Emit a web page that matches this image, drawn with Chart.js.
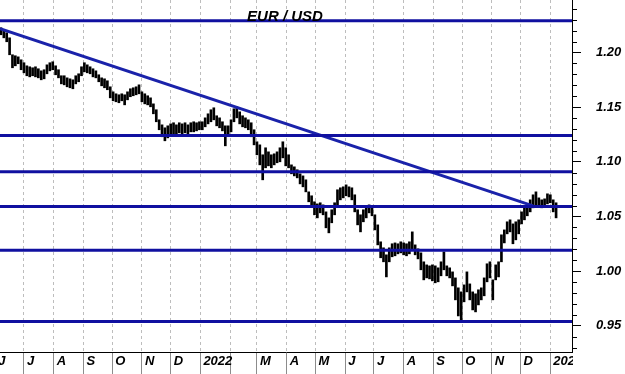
<!DOCTYPE html>
<html lang="en">
<head>
<meta charset="UTF-8">
<title>EUR / USD</title>
<style>
    body {
        margin: 0;
        padding: 0;
        background-color: #fff;
    }
    #wrap {
        width: 625px;
        height: 374px;
    }
</style>
<script src="https://cdn.jsdelivr.net/npm/chart.js"></script>
</head>
<body>
<div id="wrap"><canvas id="fxChart" width="625" height="374"></canvas></div>
<script>
// days counted from 1 June 2021
const days = [
    6, 9, 12, 15, 18, 21, 24, 27, 30, 33, 36, 39, 42, 45, 48, 51,
    54, 57, 60, 63, 66, 69, 72, 75, 78, 81, 84, 87, 90, 93, 96, 99,
    102, 105, 108, 111, 114, 117, 120, 123, 126, 129, 132, 135, 138, 141, 144, 147,
    150, 153, 156, 159, 162, 165, 168, 171, 174, 177, 180, 183, 186, 189, 192, 195,
    198, 201, 204, 207, 210, 213, 216, 219, 222, 225, 228, 231, 234, 237, 240, 243,
    246, 249, 252, 255, 258, 261, 264, 267, 270, 273, 276, 279, 282, 285, 288, 291,
    294, 297, 300, 303, 306, 309, 312, 315, 318, 321, 324, 327, 330, 333, 336, 339,
    342, 345, 348, 351, 354, 357, 360, 363, 366, 369, 372, 375, 378, 381, 384, 387,
    390, 393, 396, 399, 402, 405, 408, 411, 414, 417, 420, 423, 426, 429, 432, 435,
    438, 441, 444, 447, 450, 453, 456, 459, 462, 465, 468, 471, 474, 477, 480, 483,
    486, 489, 492, 495, 498, 501, 504, 507, 510, 513, 516, 519, 522, 525, 528, 531,
    534, 537, 540, 543, 546, 549, 552, 555, 558, 561, 564, 567, 570, 573, 576, 579,
    582, 585
];

const highs = [
    1.2226, 1.2198, 1.2180, 1.2134, 1.1979, 1.1970, 1.1960, 1.1933, 1.1906, 1.1878, 1.1869, 1.1860, 1.1869, 1.1851, 1.1832, 1.1842,
    1.1887, 1.1906, 1.1915, 1.1878, 1.1842, 1.1787, 1.1787, 1.1768, 1.1759, 1.1750, 1.1787, 1.1805, 1.1869, 1.1906, 1.1887, 1.1869,
    1.1851, 1.1832, 1.1796, 1.1768, 1.1759, 1.1741, 1.1686, 1.1640, 1.1622, 1.1613, 1.1622, 1.1613, 1.1640, 1.1668, 1.1677, 1.1686,
    1.1704, 1.1640, 1.1622, 1.1604, 1.1585, 1.1530, 1.1476, 1.1384, 1.1338, 1.1311, 1.1329, 1.1347, 1.1357, 1.1338, 1.1357, 1.1347,
    1.1357, 1.1338, 1.1357, 1.1366, 1.1357, 1.1366, 1.1366, 1.1402, 1.1439, 1.1476, 1.1494, 1.1421, 1.1402, 1.1366, 1.1329, 1.1329,
    1.1384, 1.1485, 1.1503, 1.1457, 1.1421, 1.1402, 1.1384, 1.1357, 1.1293, 1.1183, 1.1155, 1.1064, 1.1128, 1.1091, 1.1064, 1.1073,
    1.1091, 1.1128, 1.1183, 1.1128, 1.1064, 1.0972, 1.0954, 1.0927, 1.0890, 1.0871, 1.0835, 1.0725, 1.0689, 1.0634, 1.0615, 1.0625,
    1.0606, 1.0542, 1.0487, 1.0561, 1.0625, 1.0744, 1.0762, 1.0771, 1.0789, 1.0771, 1.0762, 1.0698, 1.0561, 1.0515, 1.0561, 1.0588,
    1.0606, 1.0597, 1.0515, 1.0423, 1.0268, 1.0213, 1.0149, 1.0213, 1.0250, 1.0258, 1.0250, 1.0268, 1.0258, 1.0250, 1.0268, 1.0359,
    1.0240, 1.0204, 1.0167, 1.0085, 1.0057, 1.0048, 1.0057, 1.0048, 1.0030, 1.0085, 1.0176, 1.0048, 1.0030, 0.9993, 0.9938, 0.9847,
    0.9810, 0.9874, 0.9993, 0.9883, 0.9810, 0.9792, 0.9829, 0.9847, 0.9938, 1.0067, 1.0085, 0.9920, 1.0057, 1.0085, 1.0332, 1.0377,
    1.0451, 1.0469, 1.0432, 1.0451, 1.0469, 1.0542, 1.0579, 1.0597, 1.0652, 1.0698, 1.0725, 1.0670, 1.0652, 1.0661, 1.0707, 1.0698,
    1.0652, 1.0625
];

const lows = [
    1.2162, 1.2134, 1.2098, 1.1979, 1.1860, 1.1878, 1.1897, 1.1842, 1.1814, 1.1787, 1.1777, 1.1787, 1.1777, 1.1768, 1.1750, 1.1759,
    1.1805, 1.1832, 1.1842, 1.1796, 1.1768, 1.1713, 1.1704, 1.1686, 1.1677, 1.1668, 1.1713, 1.1732, 1.1787, 1.1823, 1.1814, 1.1805,
    1.1777, 1.1768, 1.1732, 1.1695, 1.1677, 1.1659, 1.1585, 1.1558, 1.1549, 1.1540, 1.1558, 1.1521, 1.1567, 1.1595, 1.1604, 1.1613,
    1.1622, 1.1549, 1.1530, 1.1521, 1.1503, 1.1439, 1.1366, 1.1293, 1.1229, 1.1192, 1.1219, 1.1256, 1.1256, 1.1247, 1.1265, 1.1256,
    1.1265, 1.1247, 1.1274, 1.1274, 1.1283, 1.1293, 1.1293, 1.1320, 1.1347, 1.1366, 1.1384, 1.1329, 1.1311, 1.1283, 1.1146, 1.1247,
    1.1274, 1.1366, 1.1402, 1.1347, 1.1320, 1.1311, 1.1293, 1.1229, 1.1155, 1.1064, 1.0972, 1.0835, 1.0945, 1.0963, 1.0945, 1.0972,
    1.0991, 1.1000, 1.1036, 1.0963, 1.0945, 1.0890, 1.0871, 1.0853, 1.0798, 1.0771, 1.0725, 1.0634, 1.0597, 1.0515, 1.0487, 1.0533,
    1.0515, 1.0396, 1.0350, 1.0442, 1.0515, 1.0606, 1.0652, 1.0670, 1.0689, 1.0679, 1.0652, 1.0542, 1.0423, 1.0359, 1.0451, 1.0487,
    1.0533, 1.0506, 1.0377, 1.0240, 1.0122, 1.0085, 0.9947, 1.0085, 1.0131, 1.0140, 1.0158, 1.0167, 1.0149, 1.0140, 1.0158, 1.0195,
    1.0149, 1.0112, 1.0012, 0.9920, 0.9938, 0.9929, 0.9911, 0.9893, 0.9902, 0.9957, 1.0012, 0.9957, 0.9938, 0.9865, 0.9737, 0.9590,
    0.9554, 0.9719, 0.9810, 0.9737, 0.9645, 0.9627, 0.9691, 0.9737, 0.9774, 0.9902, 0.9938, 0.9737, 0.9920, 0.9947, 1.0085, 1.0258,
    1.0341, 1.0359, 1.0250, 1.0286, 1.0341, 1.0432, 1.0469, 1.0506, 1.0542, 1.0579, 1.0606, 1.0588, 1.0579, 1.0588, 1.0615, 1.0625,
    1.0542, 1.0487
];

const monthStarts = [0, 30, 61, 92, 122, 153, 183, 214, 245, 273, 304, 334, 365, 395, 426, 457, 487, 518, 548, 579];
const monthLabels = ['J', 'J', 'A', 'S', 'O', 'N', 'D', '2022', '', 'M', 'A', 'M', 'J', 'J', 'A', 'S', 'O', 'N', 'D', '2023'];

// support / resistance levels and the falling trend line
const levels = [1.229, 1.124, 1.091, 1.059, 1.019, 0.954];
const trendDays = [5, 561];
const trendValues = [1.2217, 1.0597];

const priceTicks = [0.95, 1.00, 1.05, 1.10, 1.15, 1.20];
const minorTicks = [0.93, 0.94, 0.96, 0.97, 0.98, 0.99, 1.01, 1.02, 1.03, 1.04, 1.06, 1.07, 1.08, 1.09,
    1.11, 1.12, 1.13, 1.14, 1.16, 1.17, 1.18, 1.19, 1.21, 1.22, 1.23, 1.24];

const X_MIN = 5, X_MAX = 601.6;
const BLUE = '#1010a0';

function hasFont(name) {
    const c = document.createElement('canvas').getContext('2d');
    c.font = 'bold italic 40px monospace';
    const a = c.measureText('EUR / USD 1.20').width;
    c.font = 'bold italic 40px "' + name + '", monospace';
    const b = c.measureText('EUR / USD 1.20').width;
    return a !== b;
}

const narrow = hasFont('Liberation Sans Narrow');
const family = narrow ? '"Liberation Sans Narrow", "Liberation Sans", Arial, sans-serif' : '"Liberation Sans", Arial, sans-serif';
const labelSize = narrow ? 16 : 13;
const titleSize = narrow ? 18 : 15;

const resetPadding = s => {
    s.paddingLeft = 0;
    s.paddingRight = 0;
    s.paddingTop = 0;
    s.paddingBottom = 0;
};

const extras = {
    id: 'extras',
    afterDraw(chart) {
        const { ctx, chartArea, scales: { y } } = chart;
        ctx.save();
        // short minor ticks on the price axis
        ctx.strokeStyle = '#000';
        ctx.lineWidth = 1;
        minorTicks.forEach(v => {
            const py = Math.round(y.getPixelForValue(v)) + 0.5;
            ctx.beginPath();
            ctx.moveTo(chartArea.right, py);
            ctx.lineTo(chartArea.right + 5, py);
            ctx.stroke();
        });
        // the last month label is cut at the axis
        ctx.fillStyle = '#fff';
        ctx.fillRect(chartArea.right + 1, chartArea.bottom + 1, chart.width - chartArea.right, chart.height - chartArea.bottom);
        // title
        ctx.fillStyle = '#000';
        ctx.font = 'italic bold ' + titleSize + 'px ' + family;
        ctx.textAlign = 'center';
        ctx.textBaseline = 'alphabetic';
        ctx.fillText('EUR / USD', 285, 21);
        ctx.restore();
    }
};

const levelSets = levels.map(v => ({
    type: 'line',
    data: [{ x: X_MIN, y: v }, { x: X_MAX, y: v }],
    borderColor: BLUE,
    borderWidth: 3,
    pointRadius: 0,
    order: 0
}));

const ctx = document.getElementById('fxChart').getContext('2d');
new Chart(ctx, {
    type: 'bar',
    data: {
        datasets: [
            {
                type: 'bar',
                data: days.map((d, i) => ({ x: d, y: [lows[i], highs[i]] })),
                backgroundColor: '#000',
                borderWidth: 0,
                barThickness: 2,
                order: 1
            },
            ...levelSets,
            {
                type: 'line',
                data: trendDays.map((d, i) => ({ x: d, y: trendValues[i] })),
                borderColor: '#1a22aa',
                borderWidth: 3,
                pointRadius: 0,
                order: 0
            }
        ]
    },
    options: {
        responsive: false,
        devicePixelRatio: 1,
        animation: false,
        events: [],
        layout: { padding: 0 },
        plugins: {
            legend: { display: false },
            tooltip: { enabled: false }
        },
        scales: {
            x: {
                type: 'linear',
                min: X_MIN,
                max: X_MAX,
                offset: false,
                afterBuildTicks: s => { s.ticks = monthStarts.map(v => ({ value: v })); },
                afterFit: s => { s.height = 22; resetPadding(s); },
                ticks: {
                    autoSkip: false,
                    maxRotation: 0,
                    minRotation: 0,
                    align: 'start',
                    labelOffset: 3,
                    padding: -20,
                    color: '#000',
                    font: { family: family, size: labelSize, style: 'italic', weight: 'bold' },
                    callback: (v, i) => monthLabels[i]
                },
                grid: {
                    offset: false,
                    color: '#bdbdbd',
                    tickColor: '#8c8c8c',
                    tickLength: 22,
                    lineWidth: 1
                },
                border: { color: '#000', width: 1, dash: [3, 3] }
            },
            y: {
                position: 'right',
                min: 0.926,
                max: 1.248,
                beginAtZero: false,
                afterBuildTicks: s => { s.ticks = priceTicks.map(v => ({ value: v })); },
                afterFit: s => { s.width = 53; resetPadding(s); },
                ticks: {
                    padding: 15,
                    color: '#000',
                    font: { family: family, size: labelSize, style: 'italic', weight: 'bold' },
                    callback: v => v.toFixed(2)
                },
                grid: {
                    drawOnChartArea: false,
                    tickLength: 9,
                    tickColor: '#000'
                },
                border: { color: '#000', width: 1 }
            }
        }
    },
    plugins: [extras]
});
</script>
</body>
</html>
